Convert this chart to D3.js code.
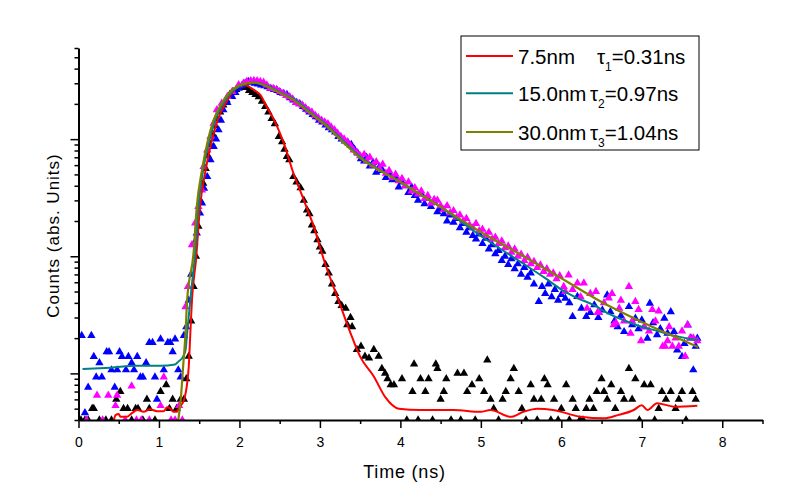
<!DOCTYPE html>
<html><head><meta charset="utf-8">
<script src="https://cdn.jsdelivr.net/npm/d3@7/dist/d3.min.js"></script>
<style>body{margin:0;background:#fff}svg{display:block}</style>
</head><body><svg id="c" width="792" height="499"></svg>
<script>
// ---------- data (time in ns, counts) ----------
const xTickValues = [0,1,2,3,4,5,6,7,8];
const xMinorValues = [0.5,1.5,2.5,3.5,4.5,5.5,6.5,7.5,8.5];
const yMajorValues = [10,100,1000];
const yMinorValues = [4,5,6,7,8,9,20,30,40,50,60,70,80,90,200,300,400,500,600,700,800,900,2000,3000,4000,5000,6000];

const legendSizes = ["7.5nm","15.0nm","30.0nm"];
const legendTauIdx = ["1","2","3"];
const legendTauVals = ["=0.31ns","=0.97ns","=1.04ns"];

const blackPts = [[0.03,4],[0.08,4],[0.12,4],[0.17,5],[0.19,5],[0.26,4],[0.34,4],[0.41,4],[0.47,6],[0.52,7],[0.56,5],[0.61,5],[0.66,4],[0.71,5],[0.74,5],[0.80,4],[0.85,6],[0.88,5],[0.95,4],[1.02,7],[1.09,8],[1.13,5],[1.17,6],[1.22,5],[1.27,6],[1.31,6],[1.34,9],[1.37,14],
[1.40,28],[1.43,55],[1.46,100],[1.49,180],[1.52,290],[1.55,420],[1.58,560],[1.61,720],[1.64,900],[1.67,1100],[1.70,1300],[1.73,1480],[1.76,1700],[1.80,1950],[1.84,2150],[1.88,2400],[1.92,2550],[1.96,2650],[2.00,2750],[2.04,2800],[2.08,2750],[2.12,2600],[2.16,2500],[2.20,2400],[2.24,2300],[2.28,2100],[2.32,1900],[2.36,1700],[2.40,1500],[2.44,1350],[2.49,1050],[2.53,950],[2.56,820],[2.59,709],[2.62,664],[2.67,478],[2.71,430],[2.76,383],[2.80,300],[2.84,248],[2.87,230],[2.90,185],[2.93,165],[2.97,138],[3.00,120],[3.03,110],[3.07,85],[3.11,72],[3.15,58],[3.19,48],[3.23,41],[3.27,38],[3.32,36],[3.34,26],[3.38,30],[3.40,25],[3.46,16],[3.51,17],[3.56,14],[3.61,13.5],[3.67,16],[3.73,14],[3.77,11],[3.81,10],[3.84,9],[3.88,8],[3.92,8],
[4.02,9],[4.08,4],[4.15,7],[4.17,12],[4.22,4],[4.25,9],[4.31,7],[4.35,9],[4.40,4],[4.44,12],[4.46,11],[4.50,6],[4.54,7],[4.57,9],[4.63,4],[4.71,10],[4.75,4],[4.79,10],[4.83,7],[4.89,8],[4.93,4],[4.98,9],[5.04,7],[5.08,13],[5.12,6],[5.16,5],[5.22,4],[5.27,6],[5.31,7],[5.37,9],[5.41,11],[5.47,7],[5.51,5],[5.56,4],[5.62,8],[5.66,6],[5.70,4],[5.75,6],[5.79,9],[5.83,8],[5.87,4],[5.91,6],[5.96,4],[6.00,5],[6.06,8],[6.10,4],[6.14,6],[6.18,5],[6.23,4],[6.27,4],[6.31,5],[6.35,6],[6.40,5],[6.44,7],[6.50,9],[6.53,7],[6.57,6],[6.62,8],[6.67,5],[6.74,7],[6.78,6],[6.84,11],[6.88,6],[6.92,9],[6.97,4],[7.03,8],[7.11,8],[7.16,4],[7.21,5],[7.25,7],[7.30,6],[7.36,7],[7.42,5],[7.46,6],[7.50,7],[7.55,4],[7.63,7],[7.67,6]];

const bluePts = [[0.04,21],[0.08,4.6],[0.12,7.6],[0.16,21],[0.19,13.9],[0.22,9.3],[0.26,12.3],[0.29,9.3],[0.35,15.3],[0.38,15.3],[0.41,10.7],[0.45,7.6],[0.48,10.7],[0.51,15.3],[0.54,13.9],[0.59,10.7],[0.62,13.9],[0.66,12.3],[0.69,10.7],[0.73,13.9],[0.77,9.3],[0.80,9.3],[0.84,12.3],[0.88,18.3],[0.92,18.3],[0.95,9.3],[0.975,6.0],[1.02,19.6],[1.06,10.7],[1.11,18.3],[1.14,18.3],[1.17,15.3],[1.20,19.6],[1.24,10.7],[1.27,9.3],[1.31,21],[1.34,25],[1.37,42],
[1.40,70],[1.44,130],[1.47,158],[1.51,234],[1.535,285],[1.56,380],[1.60,478],[1.64,664],[1.68,863],[1.71,1000],[1.74,1198],[1.77,1450],[1.80,1776],[1.85,2050],[1.91,2307],[1.95,2500],[1.99,2720],
[2.03,2850],[2.07,3000],[2.11,3100],[2.15,3050],[2.19,3000],[2.23,2950],[2.27,2900],[2.31,2850],[2.35,2800],[2.39,2700],[2.43,2650],[2.47,2600],[2.51,2500],[2.55,2450],[2.59,2400],[2.63,2250],[2.67,2150],[2.71,2050],[2.75,2000],[2.79,1900],[2.83,1800],[2.87,1700],[2.91,1620],[2.95,1550],[2.99,1450],[3.03,1400],[3.07,1320],[3.11,1250],[3.15,1200],[3.19,1150],[3.23,1050],[3.27,1000],[3.31,960],[3.35,930],[3.39,900],[3.43,820],[3.47,760],[3.51,680],
[3.55,650],[3.58,700],[3.62,590],[3.66,630],[3.70,520],[3.74,580],[3.78,540],[3.82,470],[3.86,510],[3.90,450],[3.94,470],[3.98,390],[4.02,430],[4.06,400],[4.10,350],[4.14,390],[4.18,330],[4.22,300],[4.26,340],[4.30,280],[4.34,310],[4.38,265],[4.42,290],[4.46,240],[4.50,255],[4.54,230],[4.58,200],[4.62,225],[4.66,195],[4.70,210],[4.74,175],[4.78,190],[4.82,160],[4.86,175],[4.90,150],[4.94,140],[4.98,155],[5.02,128],[5.06,142],[5.10,115],[5.14,125],[5.18,105],[5.22,112],[5.26,92],[5.30,100],[5.34,85],[5.38,95],[5.42,78],[5.46,86],[5.50,70],[5.54,80],[5.58,66],[5.62,72],[5.66,58],[5.72,41],[5.76,55],[5.80,48],[5.84,58],[5.88,45],[5.92,52],[5.96,42],[6.00,47],
[6.05,43.8],[6.10,40],[6.14,30.5],[6.20,45.2],[6.25,36],[6.31,30.5],[6.36,33],[6.41,38.4],[6.46,30],[6.51,34.7],[6.57,46.7],[6.61,33.6],[6.66,28],[6.70,25],[6.74,31],[6.78,22.7],[6.84,37.1],[6.88,26],[6.92,29.5],[6.96,24],[7.00,28.5],[7.03,25],[7.07,19.9],[7.10,39.7],[7.14,27],[7.19,21.3],[7.23,24],[7.28,29.5],[7.32,22],[7.36,33.6],[7.40,22.7],[7.44,15.8],[7.50,13.9],[7.53,18],[7.57,25.9],[7.61,20],[7.64,10.7],[7.67,17],[7.69,19.9]];

const magPts = [[0.10,4],[0.23,6.5],[0.30,4],[0.37,6.5],[0.46,5.3],[0.48,6.5],[0.58,4],[0.66,7.8],[0.72,4],[0.78,4],[0.88,4],[1.02,5.3],[1.06,9.3],[1.15,4],[1.20,4],[1.25,5.3],[1.29,4],
[1.33,37],[1.36,55],[1.41,125],[1.45,192],[1.49,265],[1.535,368],[1.555,582],[1.60,808],[1.64,1050],[1.68,1367],[1.72,1776],[1.78,2026],[1.85,2307],[1.91,2545],[1.99,2903],[2.05,3000],[2.09,3098],[2.14,3150],[2.18,3158],
[2.22,3150],[2.26,3100],[2.30,3050],[2.34,2900],[2.38,2720],[2.42,2700],[2.46,2650],[2.50,2550],[2.54,2450],[2.58,2350],[2.62,2300],[2.66,2200],[2.70,2050],[2.74,2000],[2.78,1950],[2.82,1850],[2.86,1750],[2.90,1700],[2.94,1600],[2.98,1520],[3.02,1450],[3.06,1400],[3.10,1350],[3.14,1270],[3.18,1200],[3.22,1120],[3.26,1050],[3.30,1000],[3.34,950],[3.38,880],[3.42,808],[3.46,770],[3.50,720],
[3.55,740],[3.58,650],[3.62,700],[3.66,600],[3.70,640],[3.74,560],[3.78,610],[3.82,510],[3.86,540],[3.90,470],[3.94,500],[3.98,440],[4.02,460],[4.06,400],[4.10,430],[4.14,360],[4.18,385],[4.22,340],[4.26,360],[4.30,310],[4.34,330],[4.38,285],[4.42,305],[4.46,300],[4.50,270],[4.54,250],[4.58,270],[4.62,235],[4.66,245],[4.70,215],[4.74,225],[4.78,200],[4.82,210],[4.86,185],[4.90,175],[4.94,190],[4.98,165],[5.02,170],[5.06,150],[5.10,160],[5.14,140],[5.18,145],[5.22,128],[5.26,135],[5.30,118],[5.34,122],[5.38,108],[5.42,115],[5.46,100],[5.50,104],[5.54,92],[5.58,98],[5.62,86],[5.66,90],[5.70,80],[5.74,84],[5.78,74],[5.82,78],[5.86,70],[5.90,72],[5.94,64],[5.98,68],
[6.03,55],[6.05,50],[6.09,69],[6.14,52],[6.20,59],[6.24,45],[6.28,59],[6.32,36],[6.36,48],[6.43,50],[6.45,33],[6.47,33],[6.53,40],[6.59,44],[6.63,48],[6.65,26],[6.68,27],[6.72,36],[6.74,42],[6.78,28],[6.84,55],[6.86,22],[6.88,28],[6.92,41],[6.96,35],[6.99,19],[7.03,25],[7.09,23],[7.13,35],[7.17,28],[7.21,34],[7.26,17],[7.29,17],[7.32,19],[7.34,25],[7.38,17],[7.42,20],[7.46,17],[7.50,23],[7.54,14],[7.57,26],[7.60,20],[7.64,20],[7.69,19]];

const redFit = [[0.44,4],[0.46,4.4],[0.50,4.5],[0.52,4.26],[0.60,4.26],[0.66,4.55],[0.73,4.87],[0.81,4.7],[0.89,4.93],[0.975,4.76],[1.06,4.76],[1.10,5.13],[1.14,5.0],[1.18,4.7],[1.22,4.7],[1.26,5.2],[1.31,5.9],[1.35,8.2],[1.37,11.4],[1.39,22.1],[1.41,42.3],[1.46,93],[1.51,264],[1.58,545],[1.65,930],[1.73,1459],[1.83,2040],[1.94,2632],[2.04,2903],[2.10,2850],[2.18,2632],[2.26,2385],[2.34,1884],[2.43,1459],[2.55,930],[2.67,514],[2.80,302],[2.925,178],[3.05,93],[3.23,42.3],[3.38,22.1],[3.50,13.9],[3.67,9.4],[3.81,6.3],[3.98,5.0],[4.25,4.87],[4.66,4.87],[5.00,4.7],[5.12,4.87],[5.37,4.26],[5.53,4.7],[5.70,5.0],[5.90,4.87],[6.24,4.26],[6.53,4.13],[6.70,4.4],[6.90,4.87],[7.00,5.35],[7.07,4.87],[7.19,5.57],[7.40,5.2],[7.69,5.3]];

const tealFit = [[0.05,10.9],[0.40,11.2],[0.73,11.6],[1.02,11.6],[1.20,11.9],[1.24,12.6],[1.30,13.9],[1.33,15.8],[1.35,22.1],[1.37,30.5],[1.40,50],[1.45,107],[1.49,265],[1.55,546],[1.62,923],[1.70,1459],[1.80,2026],[1.93,2632],[2.07,2960],[2.20,3038],[2.32,2903],[2.49,2545],[2.69,2162],[2.90,1664],[3.11,1279],[3.32,923],[3.50,709],[4.0,431],[4.5,262],[5.0,149],[5.5,89],[5.8,65],[6.0,52],[6.2,44],[6.4,38.4],[6.6,32],[6.8,28],[7.0,25],[7.2,23],[7.4,21],[7.6,19.7],[7.7,19.3]];

const oliveFit = [[1.24,4],[1.27,5.9],[1.30,11.4],[1.33,22.1],[1.35,42.3],[1.43,107],[1.47,265],[1.535,546],[1.60,923],[1.68,1459],[1.78,2026],[1.91,2632],[2.05,2960],[2.18,3038],[2.30,2903],[2.47,2545],[2.67,2162],[2.88,1664],[3.09,1279],[3.30,923],[3.48,709],[4.0,431],[4.5,264],[5.0,161],[5.5,103],[6.0,65],[6.5,40.7],[7.0,27.5],[7.5,19.3],[7.7,16.8]];

// ---------- drawing ----------
const svg = d3.select("#c");
const x = d3.scaleLinear().domain([0,8.5]).range([78.5,762.5]);
const y = d3.scaleLog().domain([4,6000]).range([420,48]);

svg.append("defs").append("clipPath").attr("id","plot")
  .append("rect").attr("x",79).attr("y",40).attr("width",690).attr("height",380);

const g = svg.append("g").attr("clip-path","url(#plot)");
const tri = d3.symbol(d3.symbolTriangle, 30);
function scatter(data, color){
  g.append("g").selectAll("path").data(data).join("path")
    .attr("d", tri)
    .attr("transform", d => `translate(${x(d[0])},${y(d[1])})`)
    .attr("fill", color);
}
scatter(blackPts, "#000000");
scatter(bluePts, "#0000FF");
scatter(magPts, "#FF00FF");

const line = d3.line().x(d => x(d[0])).y(d => y(d[1])).curve(d3.curveMonotoneX);
function fit(data, color, w){
  g.append("path").datum(data).attr("d", line)
    .attr("fill","none").attr("stroke",color).attr("stroke-width",w).attr("stroke-linejoin","round");
}
fit(redFit, "#FF0000", 2);
fit(tealFit, "#008080", 2);
fit(oliveFit, "#808000", 2.2);

// axes
const xAxisG = svg.append("g").attr("transform","translate(0,420)");
xAxisG.call(d3.axisBottom(x).tickValues(xTickValues).tickSize(8).tickSizeOuter(0).tickPadding(9));
xAxisG.append("g").call(d3.axisBottom(x).tickValues(xMinorValues).tickSize(4).tickSizeOuter(0).tickFormat(""))
  .select(".domain").remove();
xAxisG.selectAll(".domain").attr("stroke","#000").attr("stroke-width",2);
xAxisG.selectAll(".tick line").attr("stroke","#000").attr("stroke-width",1.5);
xAxisG.selectAll(".tick text").attr("font-family","Arial, 'Liberation Sans', sans-serif").attr("font-size",14).attr("fill","#000");

const yAxisG = svg.append("g").attr("transform","translate(78.5,0)");
yAxisG.call(d3.axisLeft(y).tickValues(yMajorValues).tickSize(8).tickSizeOuter(0).tickFormat(""));
yAxisG.append("g").call(d3.axisLeft(y).tickValues(yMinorValues).tickSize(4).tickSizeOuter(0).tickFormat(""))
  .select(".domain").remove();
yAxisG.selectAll(".domain").attr("stroke","#000").attr("stroke-width",2);
yAxisG.selectAll(".tick line").attr("stroke","#000").attr("stroke-width",1.5);

// axis titles
svg.append("text").attr("x",404.5).attr("y",478).attr("text-anchor","middle")
  .attr("font-family","Arial, 'Liberation Sans', sans-serif").attr("font-size",18).attr("letter-spacing","0.8px")
  .text("Time (ns)");
svg.append("text").attr("transform","translate(58.5,235.5) rotate(-90)").attr("text-anchor","middle")
  .attr("font-family","Arial, 'Liberation Sans', sans-serif").attr("font-size",17).attr("letter-spacing","1px")
  .text("Counts (abs. Units)");

// legend
const legColors = ["#FF0000","#008080","#808000"];
const legTauX = [597,590,590];
const legY = [56,93.3,132];
const lg = svg.append("g");
lg.append("rect").attr("x",461).attr("y",36).attr("width",238).attr("height",114)
  .attr("fill","#fff").attr("stroke","#000").attr("stroke-width",1);
legendSizes.forEach((s,i)=>{
  lg.append("line").attr("x1",466).attr("x2",513).attr("y1",legY[i]).attr("y2",legY[i])
    .attr("stroke",legColors[i]).attr("stroke-width",2);
  const t = lg.append("text").attr("x",518).attr("y",legY[i]+7.5)
    .attr("font-family","Arial, 'Liberation Sans', sans-serif").attr("font-size",20.5).attr("fill","#000");
  t.append("tspan").text(s);
  t.append("tspan").attr("x",legTauX[i]).text("\u03C4");
  t.append("tspan").attr("dy",7).attr("font-size",12).text(legendTauIdx[i]);
  t.append("tspan").attr("dy",-7).text(legendTauVals[i]);
});
</script>
</body></html>
